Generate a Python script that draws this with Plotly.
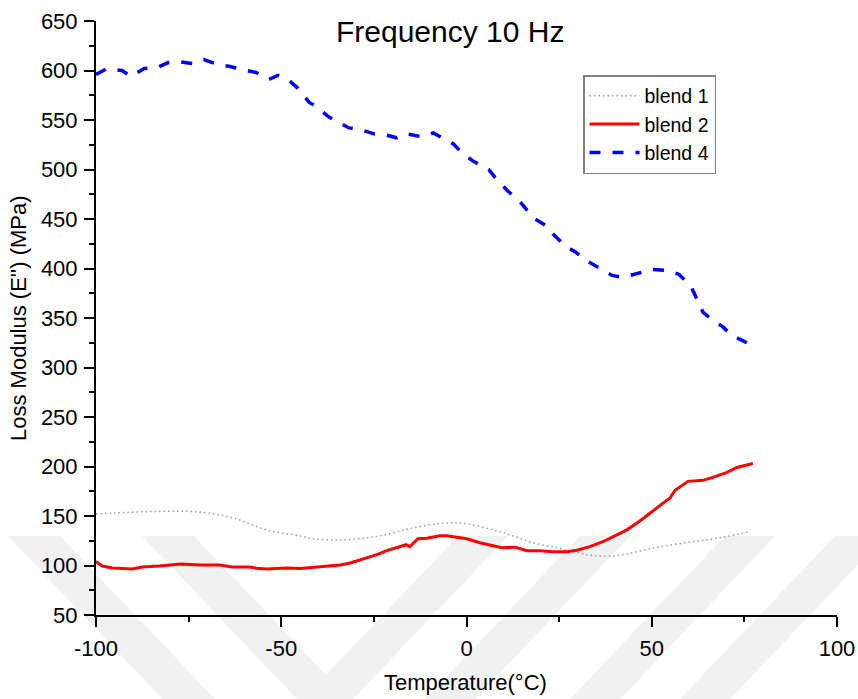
import plotly.graph_objects as go

# ---------------- data ----------------
blend4_x = [-100, -97, -93, -90.5, -87, -83.5, -80.5, -78, -73.8, -70.9, -67, -63.8,
            -59.2, -56.8, -53.3, -50.9, -47.9, -45.5, -42.5, -40.4, -37.1, -35, -31.7,
            -29.3, -25, -22, -18.8, -16.3, -12, -9, -5.8, -3.6, -1, 2, 6, 7.7, 11.2,
            13.9, 16.3, 18.5, 22, 23.3, 26.9, 29.3, 32.8, 35.5, 39.3, 42.2, 46.8, 50,
            54.4, 57.4, 60.6, 61.9, 63.8, 65.7, 69.2, 71.4, 76.2]
blend4_y = [596, 602, 600, 594, 602, 603, 608, 609, 607, 611, 606, 604,
            600, 598, 591, 595, 590, 582, 568, 563, 553, 549, 542,
            541, 536, 535, 532, 536, 533, 537, 530, 526, 516, 508, 500, 492, 478,
            470, 459, 450, 442, 435, 422, 417, 407, 401, 393, 391, 396, 399,
            398, 394, 382, 372, 356, 350, 341, 333, 324]

blend2_x = [-100, -98.3, -95.6, -90.2, -87.5, -82.9, -77, -72.1, -66.7, -63.2, -58.6,
            -56.7, -54, -48.4, -44.9, -39.5, -37.7, -34.1, -31.4, -26.9, -24.2, -21.5,
            -18.8, -16.3, -15.3, -13.1, -10.7, -7.2, -5.3, -1.8, 0.1, 3.6, 7.2, 9.6,
            13.1, 16.3, 19.8, 23.3, 27.1, 29.8, 33.3, 36.8, 40.6, 43.3, 46.8, 49.5,
            52.2, 54.1, 54.9, 56.3, 59.8, 63.8, 66.5, 70.3, 73, 77.3]
blend2_y = [104, 99.5, 97.4, 96.5, 98.5, 99.5, 101.6, 100.5, 100.5, 98.5, 98.5,
            97.3, 96.5, 97.4, 97, 98.5, 99.5, 100.5, 102.6, 107.6, 111, 115,
            118, 121, 119, 127, 127.5, 130, 130, 128, 127, 123, 120, 118,
            118.5, 115, 115, 114, 114, 115.5, 119, 124, 131, 136, 145, 153,
            161, 166, 168, 176, 185, 186, 189, 194, 199, 203]

blend1_x = [-100, -95, -83.5, -72, -63, -54, -45, -41.4, -32.3, -23.3, -14.4, -5.3,
            0.1, 7.2, 12.5, 17.9, 24.4, 29.8, 34.1, 40.6, 46, 52.2, 61.1, 68.4, 76.2]
blend1_y = [152, 153, 154.6, 154, 148, 136, 130, 127, 126, 130, 138, 143,
            142, 136, 130, 123, 118, 113, 110, 110, 114, 119, 124, 128, 134]

series_names = ["blend 1", "blend 2", "blend 4"]
x_ticks = [-100, -50, 0, 50, 100]
y_ticks = list(range(50, 651, 50))

chart_title = "Frequency 10 Hz"
x_title = "Temperature(°C)"
y_title = "Loss Modulus (E'') (MPa)"

# ---------------- layout geometry ----------------
W, H = 858, 699
L, R, T, B = 96, 21, 21, 84
PW, PH = W - L - R, H - T - B
FONT = "Liberation Sans, Arial, sans-serif"


def px(x):
    return (x - L) / PW


def py(y):
    return 1 - (y - T) / PH


fig = go.Figure()

fig.add_trace(go.Scatter(x=blend1_x, y=blend1_y, name=series_names[0], mode="lines",
                         line=dict(color="#9a9a9a", width=1.5, dash="1.5px,3px", shape="spline")))
fig.add_trace(go.Scatter(x=blend2_x, y=blend2_y, name=series_names[1], mode="lines",
                         line=dict(color="#ff0000", width=3)))
fig.add_trace(go.Scatter(x=blend4_x, y=blend4_y, name=series_names[2], mode="lines",
                         line=dict(color="#0000ff", width=3.5, dash="11px,12px")))

# faint watermark bands (background decoration)
shapes = []
top_y, bot_y = 536, 720
dy = bot_y - top_y
for x0 in [8, 142]:          # "\" bands
    s = 0.95 * dy
    path = (f"M{px(x0)},{py(top_y)} L{px(x0 + 52)},{py(top_y)} "
            f"L{px(x0 + 52 + s)},{py(bot_y)} L{px(x0 + s)},{py(bot_y)} Z")
    shapes.append(dict(type="path", path=path, xref="paper", yref="paper",
                       fillcolor="#f1f1f1", line=dict(width=0), layer="below"))
for x0 in [458, 580, 725, 835]:   # "/" bands
    s = 0.95 * dy
    path = (f"M{px(x0)},{py(top_y)} L{px(x0 + 50)},{py(top_y)} "
            f"L{px(x0 + 50 - s)},{py(bot_y)} L{px(x0 - s)},{py(bot_y)} Z")
    shapes.append(dict(type="path", path=path, xref="paper", yref="paper",
                       fillcolor="#f1f1f1", line=dict(width=0), layer="below"))

axis_common = dict(
    showline=True, linecolor="black", linewidth=2, mirror=False,
    ticks="outside", ticklen=10, tickwidth=2, tickcolor="black",
    showgrid=False, zeroline=False,
    tickfont=dict(family=FONT, size=22, color="black"),
    minor=dict(ticks="outside", ticklen=5, tickwidth=2, tickcolor="black", showgrid=False),
)

fig.update_layout(
    width=W, height=H,
    margin=dict(l=L, r=R, t=T, b=B, autoexpand=False),
    paper_bgcolor="white", plot_bgcolor="rgba(0,0,0,0)",
    font=dict(family=FONT, size=20, color="black"),
    xaxis=dict(range=[-100, 100], tickvals=x_ticks, ticktext=[str(v) for v in x_ticks],
               minor_dtick=25, minor_tick0=-100, ticklabelstandoff=3, **axis_common),
    yaxis=dict(range=[50, 650], tickvals=y_ticks, ticktext=[str(v) for v in y_ticks],
               minor_dtick=25, minor_tick0=50, ticklabelstandoff=2, **axis_common),
    showlegend=True,
    legend=dict(x=px(583), y=py(75), xanchor="left", yanchor="top",
                bgcolor="white", bordercolor="#808080", borderwidth=1.5,
                font=dict(family=FONT, size=19.5, color="black"),
                itemwidth=50, tracegroupgap=0),
    shapes=shapes,
    annotations=[
        dict(text=chart_title, x=px(450), y=py(31), xref="paper", yref="paper",
             xanchor="center", yanchor="middle", showarrow=False,
             font=dict(family=FONT, size=30, color="black")),
        dict(text=x_title, x=px(465), y=py(682), xref="paper", yref="paper",
             xanchor="center", yanchor="middle", showarrow=False,
             font=dict(family=FONT, size=22, color="black")),
        dict(text=y_title, x=px(18), y=py(318), xref="paper", yref="paper",
             xanchor="center", yanchor="middle", showarrow=False, textangle=-90,
             font=dict(family=FONT, size=22, color="black")),
    ],
)

fig.write_html("out.html")
